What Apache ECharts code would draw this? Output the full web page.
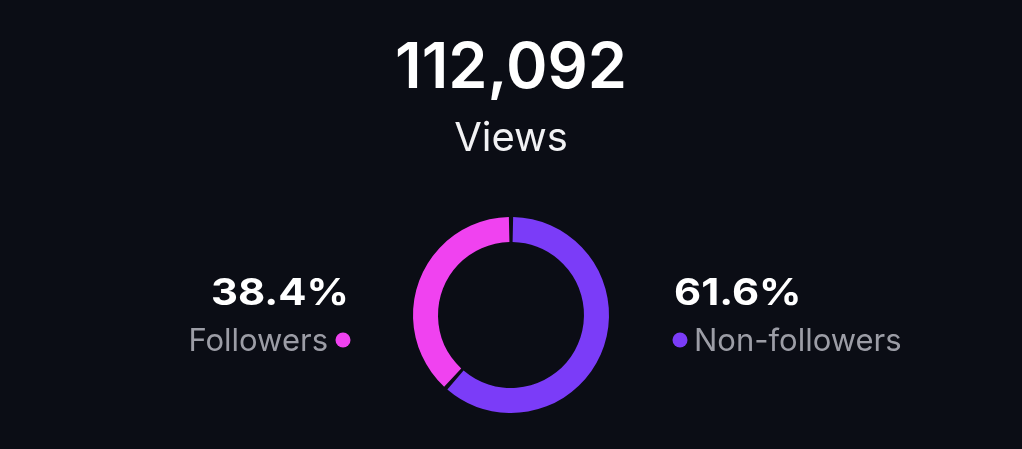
<!DOCTYPE html>
<html>
<head>
<meta charset="utf-8">
<script src="https://cdn.jsdelivr.net/npm/echarts@6/dist/echarts.min.js"></script>
<style>
  html, body { margin: 0; padding: 0; background: #0b0d15; }
  #chart { width: 1022px; height: 449px; }
</style>
</head>
<body>
<div id="chart"></div>
<script>
// data
var totalViews = 112092
var totalLabel = 'Views'
var categories = ['Non-followers', 'Followers']
var shares = [61.6, 38.4]
var colors = ['#7b3cf8', '#f042f0']

var bg = '#0b0d15'
var font = 'Inter, "Noto Sans", sans-serif'

var myChart = echarts.init(document.getElementById('chart'))

var pieData = categories.map(function (name, i) {
  return { name: name, value: shares[i], itemStyle: { color: colors[i] } }
})

var option = {
  backgroundColor: bg,
  animation: false,
  graphic: [
    {
      type: 'text', left: 'center', top: 38,
      style: {
        text: totalViews.toLocaleString('en-US'),
        fill: '#ffffff', font: '600 63px ' + font
      }
    },
    {
      type: 'text', left: 'center', top: 119,
      style: { text: totalLabel, fill: '#f2f2f4', font: '400 40px ' + font }
    },
    // left side: Followers
    {
      type: 'text', x: 349, y: 294, scaleX: 1.13,
      style: {
        text: shares[1].toFixed(1) + '%', fill: '#ffffff',
        font: '700 37px ' + font, align: 'right', verticalAlign: 'middle'
      }
    },
    {
      type: 'text', x: 328, y: 342,
      style: {
        text: categories[1], fill: '#9c9da6',
        font: '400 31px ' + font, align: 'right', verticalAlign: 'middle'
      }
    },
    {
      type: 'circle', shape: { cx: 343, cy: 340, r: 7.5 },
      style: { fill: colors[1] }
    },
    // right side: Non-followers
    {
      type: 'text', x: 674, y: 294, scaleX: 1.13,
      style: {
        text: shares[0].toFixed(1) + '%', fill: '#ffffff',
        font: '700 37px ' + font, align: 'left', verticalAlign: 'middle'
      }
    },
    {
      type: 'circle', shape: { cx: 680, cy: 340, r: 7.5 },
      style: { fill: colors[0] }
    },
    {
      type: 'text', x: 694, y: 342,
      style: {
        text: categories[0], fill: '#9c9da6',
        font: '400 31px ' + font, align: 'left', verticalAlign: 'middle'
      }
    }
  ],
  series: [
    {
      type: 'pie',
      center: [511, 315],
      radius: [73, 98],
      startAngle: 90,
      clockwise: true,
      padAngle: 2.5,
      label: { show: false },
      labelLine: { show: false },
      emphasis: { disabled: true },
      data: pieData
    }
  ]
}

myChart.setOption(option)
</script>
</body>
</html>
